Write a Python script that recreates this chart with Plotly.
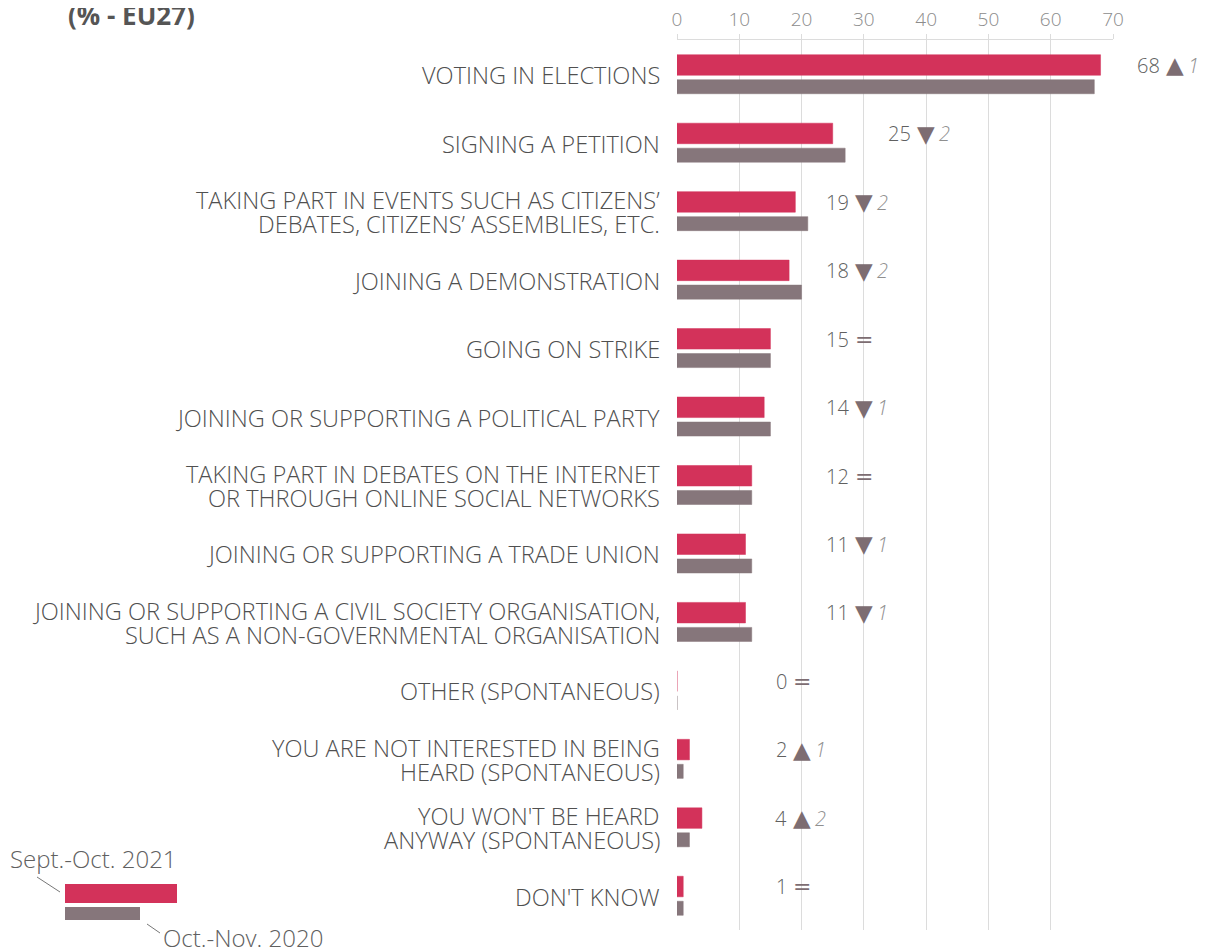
import plotly.graph_objects as go

# categories (top to bottom)
activities = [
    "VOTING IN ELECTIONS",
    "SIGNING A PETITION",
    "TAKING PART IN EVENTS SUCH AS CITIZENS’<br>DEBATES, CITIZENS’ ASSEMBLIES, ETC.",
    "JOINING A DEMONSTRATION",
    "GOING ON STRIKE",
    "JOINING OR SUPPORTING A POLITICAL PARTY",
    "TAKING PART IN DEBATES ON THE INTERNET<br>OR THROUGH ONLINE SOCIAL NETWORKS",
    "JOINING OR SUPPORTING A TRADE UNION",
    "JOINING OR SUPPORTING A CIVIL SOCIETY ORGANISATION,<br>SUCH AS A NON-GOVERNMENTAL ORGANISATION",
    "OTHER (SPONTANEOUS)",
    "YOU ARE NOT INTERESTED IN BEING<br>HEARD (SPONTANEOUS)",
    "YOU WON'T BE HEARD<br>ANYWAY (SPONTANEOUS)",
    "DON'T KNOW",
]
sep_oct_2021 = [68, 25, 19, 18, 15, 14, 12, 11, 11, 0, 2, 4, 1]
oct_nov_2020 = [67, 27, 21, 20, 15, 15, 12, 12, 12, 0, 1, 2, 1]
change = [1, -2, -2, -2, 0, -1, 0, -1, -1, 0, 1, 2, 0]

# where the change symbol sits on the x axis, per row
symbol_x = [80, 40, 30, 30, 30, 30, 30, 30, 30, 20, 20, 20, 20]

RED = "#d3325a"
GREY = "#86767b"
TXT = "#505050"

W, H = 1208, 950
PAGE = 8  # body margin of the html page
L, R, T, B = 677 - PAGE, 1208 - (1113 - PAGE), 40 - PAGE, 950 - (930 - PAGE)
XMAX = 70
PPU = (W - L - R) / XMAX  # pixels per percentage point
LINE_H = 24


# page pixel -> paper coords
def px(x):
    return (x - PAGE - L) / (W - L - R)


def py(y):
    return (H - B - (y - PAGE)) / (H - T - B)


fig = go.Figure()
fig.add_trace(go.Bar(y=activities, x=sep_oct_2021, orientation="h", name="Sept.-Oct. 2021",
                     marker=dict(color=RED, line=dict(color=RED, width=0.5)),
                     width=0.3, offset=-0.285, hoverinfo="x"))
fig.add_trace(go.Bar(y=activities, x=oct_nov_2020, orientation="h", name="Oct.-Nov. 2020",
                     marker=dict(color=GREY, line=dict(color=GREY, width=0.5)),
                     width=0.205, offset=0.08, hoverinfo="x"))

annotations = []

# category labels, one annotation per line so the line spacing can be set
for cat in activities:
    lines = cat.split("<br>")
    n = len(lines)
    for k, line in enumerate(lines):
        annotations.append(dict(x=0, y=cat, xref="x", yref="y", text=line, showarrow=False,
                                xanchor="right", xshift=-15,
                                yshift=((n - 1) / 2 - k) * LINE_H - 1,
                                font=dict(size=23.6, color=TXT, family="Open Sans", weight=300)))

for cat, v, d, sx in zip(activities, sep_oct_2021, change, symbol_x):
    # annotations outside the axis range get hidden, so clamp and shift
    ax = min(sx, XMAX)
    extra = (sx - ax) * PPU
    annotations.append(dict(x=ax, y=cat, xref="x", yref="y", text=str(v), showarrow=False,
                            xanchor="right", xshift=extra - 13, yshift=9,
                            font=dict(size=20, color="#606060", family="Open Sans", weight=300)))
    if d > 0:
        sym = "▲"
    elif d < 0:
        sym = "▼"
    else:
        sym = "="
    annotations.append(dict(x=ax, y=cat, xref="x", yref="y", text=sym, showarrow=False,
                            xanchor="center", xshift=extra, yshift=9,
                            font=dict(size=23 if d else 22, color="#7d6d72", family="DejaVu Sans")))
    if d:
        annotations.append(dict(x=ax, y=cat, xref="x", yref="y", text="<i>%d</i>" % abs(d),
                                showarrow=False, xanchor="left", xshift=extra + 11, yshift=9,
                                font=dict(size=20, color="#8f8f8f", family="Open Sans", weight=300)))

# title, at the very top of the page
annotations.append(dict(x=px(66), y=py(15), xref="paper", yref="paper", text="<b>(% - EU27)</b>",
                        showarrow=False, xanchor="left", yanchor="middle",
                        font=dict(size=26, color="#555555", family="Open Sans")))

# hand-made legend bottom left
annotations.append(dict(x=px(8), y=py(858), xref="paper", yref="paper", text="Sept.-Oct. 2021",
                        showarrow=False, xanchor="left", yanchor="middle",
                        font=dict(size=24, color="#606060", family="Open Sans", weight=300)))
annotations.append(dict(x=px(161), y=py(938), xref="paper", yref="paper", text="Oct.-Nov. 2020",
                        showarrow=False, xanchor="left", yanchor="middle",
                        font=dict(size=24, color="#606060", family="Open Sans", weight=300)))

shapes = [
    dict(type="rect", xref="paper", yref="paper", x0=px(65), x1=px(177), y0=py(884), y1=py(903),
         fillcolor=RED, line=dict(width=0)),
    dict(type="rect", xref="paper", yref="paper", x0=px(65), x1=px(140), y0=py(907), y1=py(920),
         fillcolor=GREY, line=dict(width=0)),
    dict(type="line", xref="paper", yref="paper", x0=px(37), x1=px(60), y0=py(877), y1=py(892),
         line=dict(color="#777777", width=1)),
    dict(type="line", xref="paper", yref="paper", x0=px(147), x1=px(160), y0=py(924), y1=py(933),
         line=dict(color="#777777", width=1)),
]

fig.update_layout(
    width=W, height=H,
    margin=dict(l=L, r=R, t=T, b=B, autoexpand=False),
    paper_bgcolor="white", plot_bgcolor="white",
    barmode="overlay",
    showlegend=False,
    annotations=annotations,
    shapes=shapes,
    font=dict(family="Open Sans", color=TXT),
)
fig.update_xaxes(side="top", range=[0, XMAX], dtick=10, showgrid=True, gridcolor="#dcdcdc",
                 gridwidth=1, zeroline=False, showline=True, linecolor="#dcdcdc",
                 ticks="outside", ticklen=5, tickcolor="#dcdcdc", automargin=False,
                 tickfont=dict(size=19, color="#8c8c8c", family="Open Sans", weight=300))
fig.update_yaxes(autorange="reversed", showgrid=False, zeroline=False, showline=False,
                 ticks="", showticklabels=False, automargin=False)

fig.write_html("out.html")
